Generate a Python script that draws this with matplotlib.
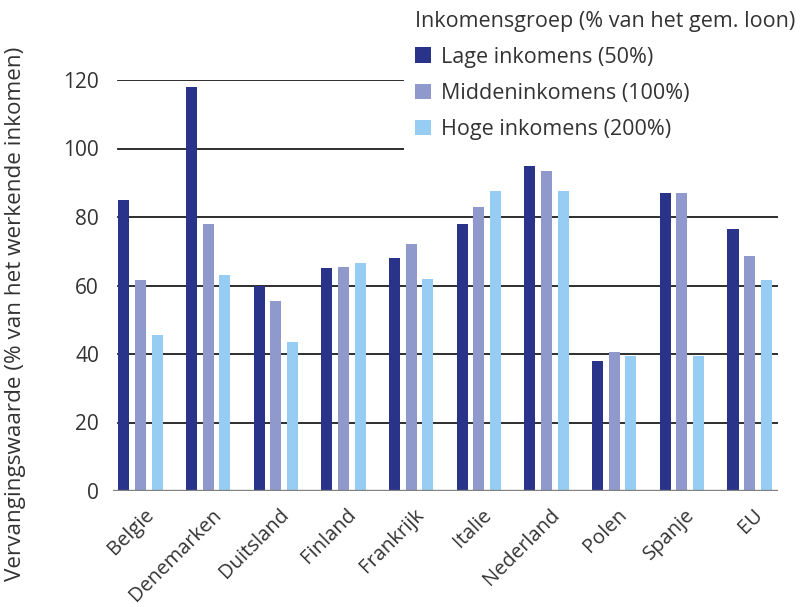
import numpy as np
import matplotlib.pyplot as plt
from matplotlib.patches import Patch
from matplotlib.transforms import offset_copy

plt.rcParams['font.family'] = ['Open Sans', 'DejaVu Sans']

landen = ['Belgie', 'Denemarken', 'Duitsland', 'Finland', 'Frankrijk',
          'Italie', 'Nederland', 'Polen', 'Spanje', 'EU']
lage = [85, 118, 60, 65, 68, 78, 95, 38, 87, 76.5]
midden = [61.5, 78, 55.5, 65.5, 72, 83, 93.5, 40.5, 87, 68.5]
hoge = [45.5, 63, 43.5, 66.5, 62, 87.5, 87.5, 39.5, 39.5, 61.5]

reeksen = ['Lage inkomens (50%)', 'Middeninkomens (100%)', 'Hoge inkomens (200%)']
kleuren = ['#283389', '#9099cc', '#97cdf2']
tekst_kleur = '#333333'

fig = plt.figure(figsize=(8.02, 6.07), dpi=100)
ax = fig.add_axes([113 / 802, 116 / 607, 665 / 802, 411 / 607])

x = np.arange(len(landen))
breedte = 0.163
stap = 0.245

# gridlines first, bars on top
for y in [20, 40, 60, 80, 100, 120]:
    ax.axhline(y, xmin=0.0075, xmax=1, color='#1e1e1e', lw=1.3, zorder=1)
ax.axhline(0, color='#808080', lw=2.4, zorder=4)

for k, (waarden, kleur) in enumerate(zip([lage, midden, hoge], kleuren)):
    ax.bar(x + (k - 1) * stap, waarden, width=breedte, color=kleur, zorder=3)

ax.set_xlim(-0.406, 9.42)
ax.set_ylim(0, 120)
ax.set_yticks([0, 20, 40, 60, 80, 100, 120])
ax.tick_params(axis='y', length=0, pad=10, labelsize=15, labelcolor=tekst_kleur)
ax.tick_params(axis='x', length=0)
ax.set_xticks(x)
ax.set_xticklabels([])
for s in ax.spines.values():
    s.set_visible(False)

# rotated country labels
trans = offset_copy(ax.get_xaxis_transform(), fig=fig, x=10, y=-21, units='dots')
for i, naam in enumerate(landen):
    ax.text(i, 0, naam, transform=trans, rotation=45, ha='right', va='center',
            rotation_mode='anchor', fontsize=14.5, color=tekst_kleur)

fig.text(16 / 802, 1 - 314 / 607, 'Vervangingswaarde (% van het werkende inkomen)',
         rotation=90, ha='center', va='center', fontsize=16.2, color=tekst_kleur)

handles = [Patch(facecolor=c, edgecolor='none') for c in kleuren]
leg = fig.legend(handles, reeksen, title='Inkomensgroep (% van het gem. loon)',
                 loc='upper left', bbox_to_anchor=(404 / 802, 1.0),
                 fontsize=15.5, title_fontsize=15.5, alignment='left',
                 frameon=True, framealpha=1, facecolor='white', edgecolor='none',
                 fancybox=False, handlelength=0.75, handleheight=0.75,
                 handletextpad=0.45, labelspacing=0.7, borderpad=0.5,
                 borderaxespad=0)
leg.get_title().set_color(tekst_kleur)
for t in leg.get_texts():
    t.set_color(tekst_kleur)
leg.set_zorder(10)

fig.savefig('out.png', dpi=100)
